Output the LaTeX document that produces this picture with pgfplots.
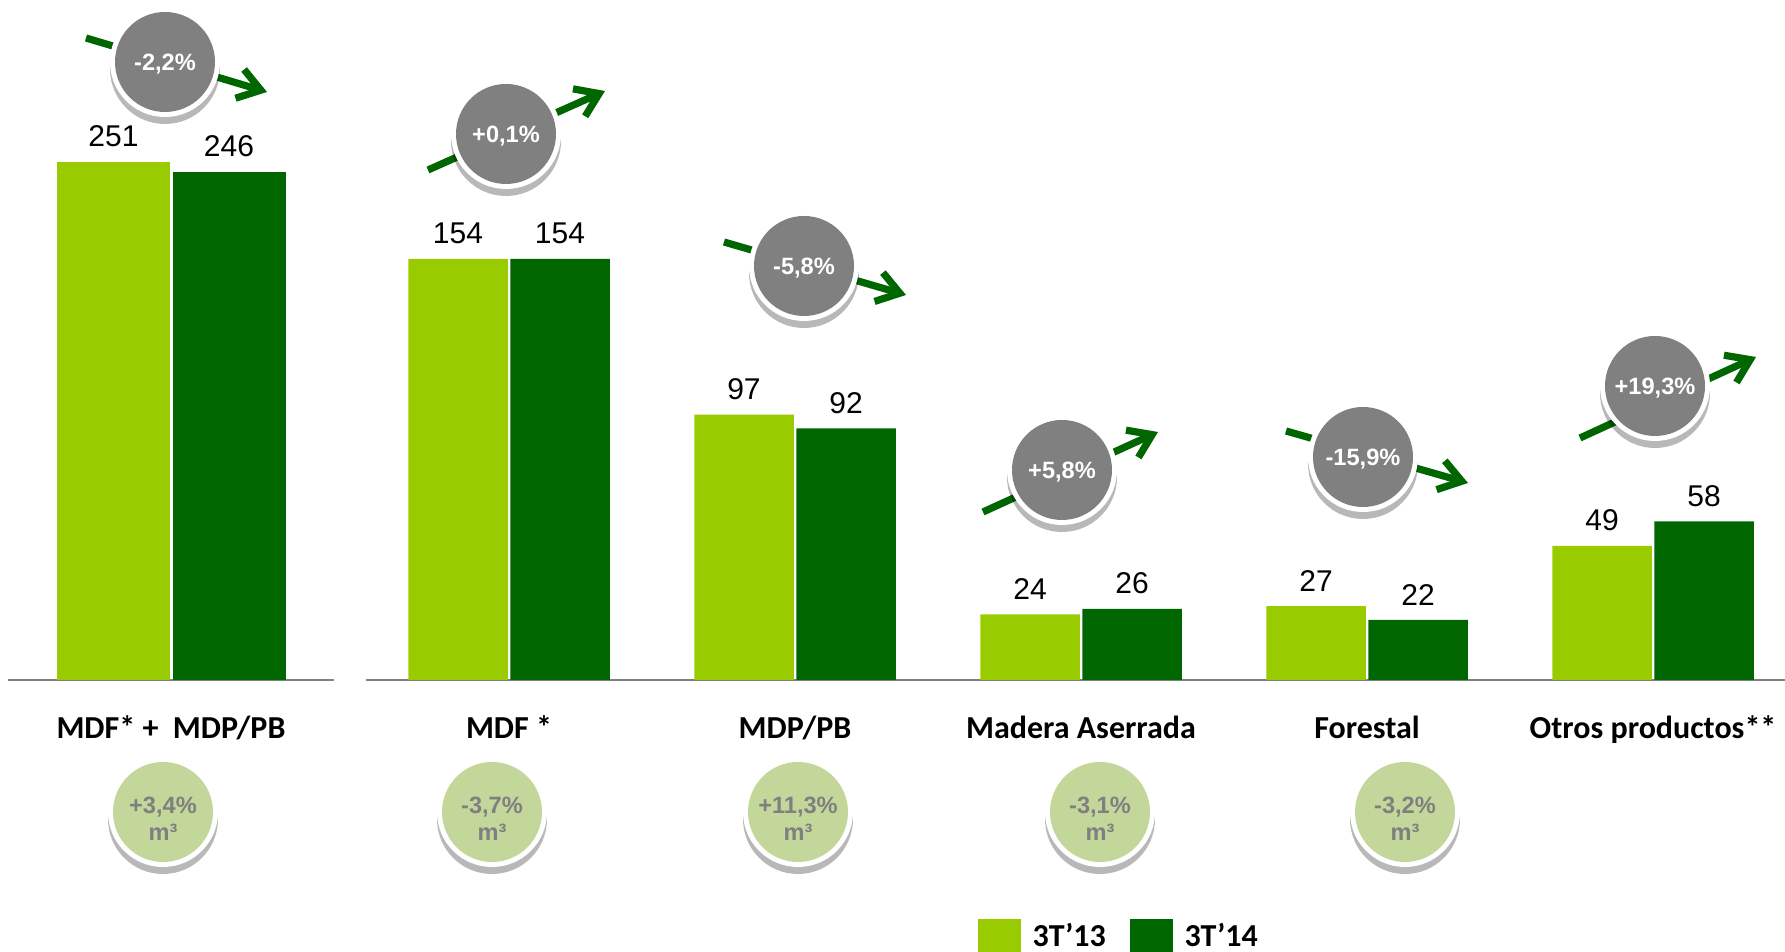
\documentclass[border=0pt]{standalone}
\usepackage{pgfplots}
\pgfplotsset{compat=1.18}
\usepackage{fontspec}
\setmainfont{Liberation Sans}
\newfontfamily\carlito{Carlito}
\usetikzlibrary{arrows.meta,shadows}
\definecolor{lightg}{HTML}{99CC00}
\definecolor{darkg}{HTML}{006600}
\definecolor{axgray}{HTML}{808080}
\definecolor{circgray}{HTML}{808080}
\definecolor{paleg}{HTML}{C4D79B}
\definecolor{txtgray}{HTML}{7F7F7F}
\begin{document}
\begin{tikzpicture}
\useasboundingbox (0,0) rectangle (892.5pt,476pt);
\pgfplotsset{
  baraxis/.style={
    axis x line=bottom, axis y line=none,
    x axis line style={-, draw=axgray, line width=1pt},
    ymin=0, ytick=\empty,
    major tick length=0pt,
    xtick style={draw=none},
    xticklabel style={font=\carlito\bfseries\fontsize{16}{19}\selectfont, anchor=base, yshift=-29.5pt, inner sep=0pt},
    anchor=south west,
    clip=false,
    ybar,
    /pgf/number format/assume math mode=true,
    nodes near coords,
    every node near coord/.append style={font=\fontsize{15}{18}\selectfont, anchor=south, inner sep=0pt, yshift=7.2pt, text=black},
  }
}
% ---- left chart: MDF* + MDP/PB ----
\begin{axis}[baraxis, at={(4pt,136pt)}, x=0.5pt, y=1.0325pt,
  xmin=8, xmax=334, ymax=300,
  xtick={171}, xticklabels={MDF*\ +\ \ MDP/PB},
  bar width=56.5pt]
\addplot[fill=lightg, draw=none, bar shift=-28.75pt] coordinates {(171,251)};
\addplot[fill=darkg, draw=none, bar shift=29pt] coordinates {(171,246)};
\end{axis}
% ---- right chart ----
\begin{axis}[baraxis, at={(183pt,136pt)}, x=143pt, y=1.3675pt,
  xmin=-0.5, xmax=4.4615, ymax=240,
  xtick={0,1,2,3,4},
  xticklabels={MDF *, MDP/PB, Madera Aserrada, Forestal, Otros productos**},
  bar width=49.75pt,
  legend columns=2,
  legend image code/.code={\fill[#1] (0pt,-7.35pt) rectangle (21.5pt,14.15pt);},
  legend style={draw=none, fill=none, inner sep=0pt, outer sep=0pt,
    at={(0.431,-0.3634)}, anchor=north west,
    font=\carlito\bfseries\fontsize{16}{19}\selectfont,
    cells={anchor=base west},
    nodes={inner sep=0pt},
    /tikz/every odd column/.append style={column sep=6pt},
    /tikz/every even column/.append style={column sep=11.8pt}}]
\addplot[fill=lightg, draw=none, bar shift=-25.5pt] coordinates {(0,154) (1,97) (2,24) (3,27) (4,49)};
\addplot[fill=darkg, draw=none, bar shift=25.5pt] coordinates {(0,154) (1,92) (2,26) (3,22) (4,58)};
\legend{3T’13, 3T’14}
\end{axis}
% ---- annotations (pixel coordinates, y downward) ----
\begin{scope}[shift={(0,476pt)}, x=0.5pt, y=-0.5pt]
  \tikzset{
    trend/.style={draw=darkg, line width=3.6pt, -{Straight Barb[length=11pt,width=15pt]}},
    ring/.style={fill=white, drop shadow={shadow xshift=0pt, shadow yshift=-3.5pt, opacity=0.28, fill=black}},
    gtxt/.style={text=white, font=\bfseries\fontsize{11.8}{14}\selectfont, anchor=base, inner sep=0pt},
    ptxt/.style={text=txtgray, font=\bfseries\fontsize{11.8}{14}\selectfont, anchor=base, inner sep=0pt},
  }
  % trend arrows and grey circles
  \foreach \ax/\ay/\bx/\by/\cx/\cy/\t in {
      86/38/267/92/165/62/{-2,2\%},
      428/170/605/91/506/134/{+0,1\%},
      724/242/906/295/804/266/{-5,8\%},
      983/512/1158/432/1062/470/{+5,8\%},
      1286/431/1468/483/1363/457/{-15,9\%},
      1580/438/1756/357/1655/386/{+19,3\%}}{
    \draw[trend] (\ax,\ay) -- (\bx,\by);
    \path[ring] (\cx,\cy) circle (27.5pt);
    \fill[circgray] (\cx,\cy) circle (25pt);
    \node[gtxt] at (\cx,\cy+8.5) {\t};
  }
  % volume circles
  \foreach \cx/\t in {163/{+3,4\%}, 492/{-3,7\%}, 798/{+11,3\%}, 1100/{-3,1\%}, 1405/{-3,2\%}}{
    \path[ring] (\cx,812) circle (27.5pt);
    \fill[paleg] (\cx,812) circle (25pt);
    \node[ptxt] at (\cx,813.5) {\t};
    \node[ptxt] at (\cx,840.5) {m³};
  }
\end{scope}
\end{tikzpicture}
\end{document}
